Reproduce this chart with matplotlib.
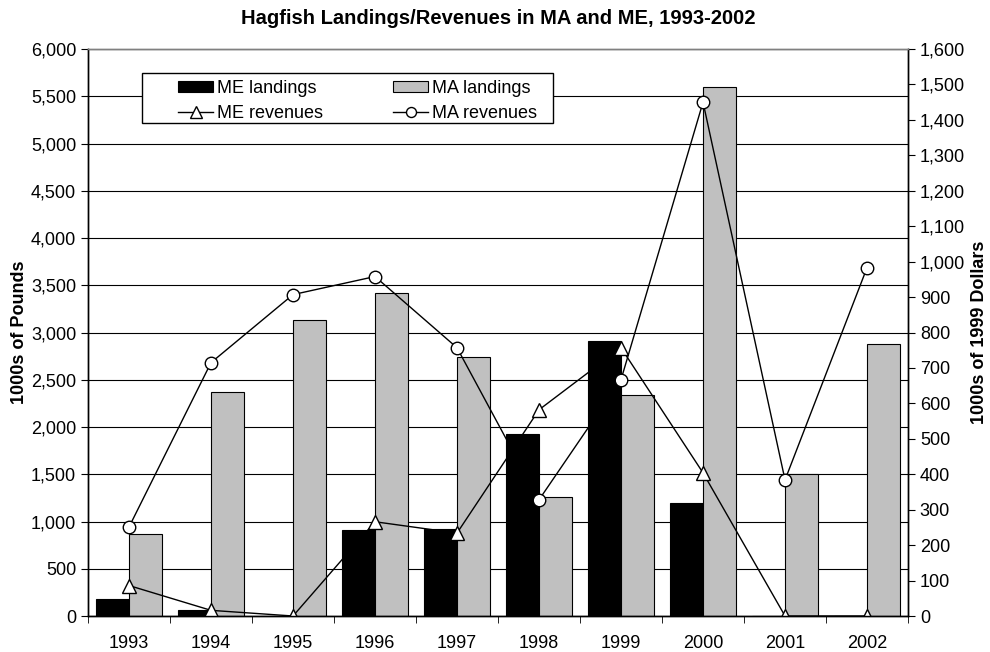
import matplotlib.pyplot as plt
from matplotlib.patches import Rectangle
from matplotlib.ticker import FuncFormatter, MultipleLocator
import numpy as np

plt.rcParams['font.family'] = ['Liberation Sans', 'DejaVu Sans']

years = ['1993', '1994', '1995', '1996', '1997', '1998', '1999', '2000', '2001', '2002']
me_landings = [180, 63, 0, 910, 920, 1926, 2905, 1196, 0, 0]
ma_landings = [868, 2370, 3132, 3418, 2741, 1259, 2339, 5600, 1505, 2878]
me_revenues = [86, 16, 0, 266, 234, 582, 757, 404, 0, 0]
ma_revenues = [251, 715, 907, 958, 757, 328, 667, 1450, 384, 983]

x = np.arange(len(years))
w = 0.4
fs = 13

fig = plt.figure(figsize=(9.9, 6.52), dpi=100)
ax = fig.add_axes([0.0889, 0.0552, 0.8283, 0.8696])
ax2 = ax.twinx()

ax.bar(x - w / 2, me_landings, w, color='black', edgecolor='black', linewidth=0.8,
       label='ME landings', zorder=2)
ax.bar(x + w / 2, ma_landings, w, color='#c0c0c0', edgecolor='black', linewidth=0.8,
       label='MA landings', zorder=2)

ax2.plot(x, me_revenues, color='black', lw=1, marker='^', ms=10, mfc='white',
         mec='black', mew=1, label='ME revenues')
ax2.plot(x, ma_revenues, color='black', lw=1, marker='o', ms=9, mfc='white',
         mec='black', mew=1, label='MA revenues')

comma = FuncFormatter(lambda v, p: f'{int(v):,}')

ax.set_xlim(-0.5, len(years) - 0.5)
ax.set_ylim(0, 6000)
ax.yaxis.set_major_locator(MultipleLocator(500))
ax.yaxis.set_major_formatter(comma)
ax.set_xticks(x)
ax.set_xticklabels(years)
ax.set_xticks(np.arange(-0.5, len(years)), minor=True)
ax.tick_params(axis='x', which='major', length=0, pad=14, labelsize=fs)
ax.tick_params(axis='x', which='minor', length=5, direction='out')
ax.tick_params(axis='y', length=5, direction='out', labelsize=fs)
ax.grid(axis='y', color='black', lw=0.8, zorder=0)
ax.set_axisbelow(True)

ax2.set_ylim(0, 1600)
ax2.yaxis.set_major_locator(MultipleLocator(100))
ax2.yaxis.set_major_formatter(comma)
ax2.tick_params(axis='y', length=5, direction='out', labelsize=fs)

for a in (ax, ax2):
    for s in a.spines.values():
        s.set_linewidth(1)
    a.spines['top'].set_color('#808080')

ax.set_ylabel('1000s of Pounds', fontsize=fs, fontweight='bold', labelpad=2)
ax2.set_ylabel('1000s of 1999 Dollars', fontsize=fs, fontweight='bold', labelpad=4)
ax.set_title('Hagfish Landings/Revenues in MA and ME, 1993-2002', fontsize=14.5,
             fontweight='bold', pad=18)

# legend box drawn separately so the entries can sit inset from the frame
box = Rectangle((142 / 990, 1 - 123 / 652), 411 / 990, 50 / 652, transform=fig.transFigure,
                facecolor='white', edgecolor='black', lw=1, zorder=5)
ax2.add_patch(box)

h1, l1 = ax.get_legend_handles_labels()
h2, l2 = ax2.get_legend_handles_labels()
handles = [h1[0], h2[0], h1[1], h2[1]]
labels = [l1[0], l2[0], l1[1], l2[1]]
leg = ax2.legend(handles, labels, ncol=2, loc='upper left',
                 bbox_to_anchor=(178 / 990, 1 - 80 / 652), bbox_transform=fig.transFigure,
                 fontsize=fs, frameon=False, borderpad=0, borderaxespad=0,
                 labelspacing=0.45, handlelength=1.95, handleheight=0.6,
                 handletextpad=0.2, columnspacing=3.9, markerscale=0.8)
leg.set_zorder(6)

fig.savefig('out.png', dpi=100)
